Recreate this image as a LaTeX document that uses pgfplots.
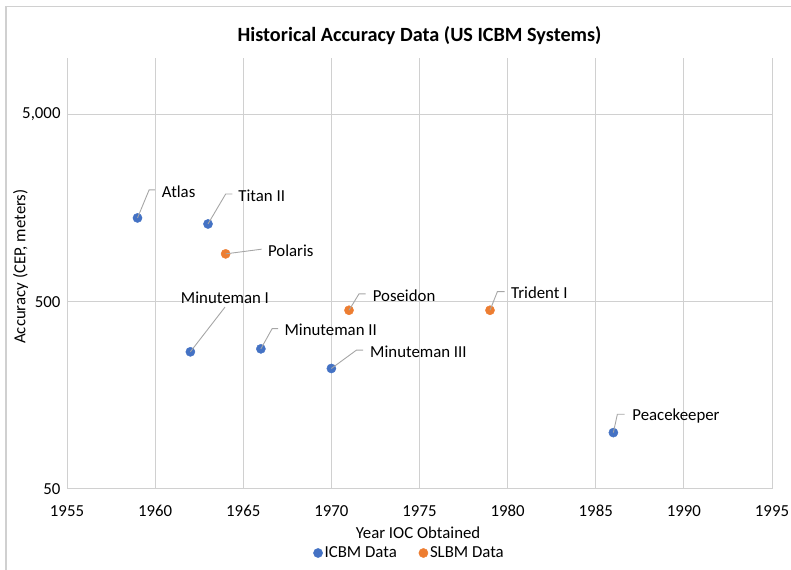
\documentclass[border=0pt]{standalone}
\usepackage{fontspec}
\setmainfont{Carlito}
\usepackage{pgfplots}
\pgfplotsset{compat=1.18}

\definecolor{icbm}{HTML}{4472C4}
\definecolor{slbm}{HTML}{ED7D31}
\definecolor{gridgray}{HTML}{D0D0D0}
\definecolor{leader}{HTML}{A6A6A6}
\newcommand{\lbl}{\fontsize{16.8bp}{20bp}\selectfont}

\begin{document}
\begin{tikzpicture}
\path[use as bounding box] (0,0) rectangle (791bp,570bp);
% chart frame (only left and top edges are visible)
\draw[gridgray, line width=1.2bp] (6bp,0) -- (6bp,563.3bp) -- (791bp,563.3bp);

\begin{axis}[
    at={(67bp,81bp)}, anchor=south west,
    scale only axis, width=705bp, height=431bp,
    xmin=1955, xmax=1995,
    ymode=log, ymin=50, ymax=10000,
    xtick={1955,1960,1965,1970,1975,1980,1985,1990,1995},
    xticklabels={1955,1960,1965,1970,1975,1980,1985,1990,1995},
    ytick={50,500,5000},
    yticklabels={50,500,{5,000}},
    /pgf/number format/assume math mode=true,
    major tick length=0pt, minor tick length=0pt, minor tick num=0,
    grid=major, grid style={gridgray, line width=1bp},
    axis x line=bottom, axis y line=left,
    axis line style={gridgray, line width=1bp, -},
    tick label style={font=\lbl, text=black},
    xticklabel style={anchor=center, yshift=-22bp},
    yticklabel style={anchor=east, inner sep=0pt, xshift=-6.3bp},
    xlabel={Year IOC Obtained},
    ylabel={Accuracy (CEP, meters)},
    label style={font=\lbl},
    xlabel style={at={(axis description cs:0.498,-0.102)}, anchor=center},
    ylabel style={at={(axis description cs:-0.0657,0.516)}, anchor=center},
    legend columns=2,
    legend style={at={(axis description cs:0.486,-0.1485)}, anchor=center,
        draw=none, fill=none, font=\lbl,
        /tikz/every even column/.append style={column sep=20bp}},
    legend cell align=left,
    clip=false,
]
\addplot[only marks, mark=*, mark size=4.6bp, mark options={fill=icbm, draw=icbm}]
    coordinates {(1959,1400)(1962,270)(1963,1300)(1966,280)(1970,220)(1986,100)};
\addlegendentry{ICBM Data}
\addplot[only marks, mark=*, mark size=4.6bp, mark options={fill=slbm, draw=slbm}]
    coordinates {(1964,900)(1971,450)(1979,450)};
\addlegendentry{SLBM Data}

% anchor points for the data labels
\coordinate (atlas) at (axis cs:1959,1400);
\coordinate (titan) at (axis cs:1963,1300);
\coordinate (polaris) at (axis cs:1964,900);
\coordinate (mm1) at (axis cs:1962,270);
\coordinate (mm2) at (axis cs:1966,280);
\coordinate (mm3) at (axis cs:1970,220);
\coordinate (poseidon) at (axis cs:1971,450);
\coordinate (trident) at (axis cs:1979,450);
\coordinate (peace) at (axis cs:1986,100);
\end{axis}

\begin{scope}[leader, line width=0.9bp,
    every node/.style={inner sep=0pt, font=\lbl, text=black}]
\draw (atlas) -- ++(11.6bp,28bp) -- ++(5.7bp,0)
    node[anchor=west, xshift=6.7bp, yshift=-1.5bp] {Atlas};
\draw (titan) -- ++(17.7bp,30bp) -- ++(6.7bp,0)
    node[anchor=west, xshift=5.6bp, yshift=-1.5bp] {Titan II};
\draw (polaris) -- ++(36bp,4.7bp)
    node[anchor=west, xshift=6bp, yshift=-1.5bp] {Polaris};
\draw (mm1) -- ++(34.6bp,44.7bp)
    node[anchor=south, yshift=3bp] {Minuteman I};
\draw (mm2) -- ++(11.3bp,20.3bp) -- ++(6bp,0)
    node[anchor=west, xshift=6bp, yshift=-1.5bp] {Minuteman II};
\draw (mm3) -- ++(25bp,18.3bp) -- ++(6.7bp,0)
    node[anchor=west, xshift=6.7bp, yshift=-1.5bp] {Minuteman III};
\draw (poseidon) -- ++(10bp,16.4bp) -- ++(6.7bp,0)
    node[anchor=west, xshift=6.7bp, yshift=-1.5bp] {Poseidon};
\draw (trident) -- ++(7.4bp,18.7bp) -- ++(7.3bp,0)
    node[anchor=west, xshift=6bp, yshift=-1.5bp] {Trident I};
\draw (peace) -- ++(4bp,18.4bp) -- ++(7.3bp,0)
    node[anchor=west, xshift=7.3bp, yshift=-2bp] {Peacekeeper};
\end{scope}

\node[font=\bfseries\fontsize{20.2bp}{24bp}\selectfont] at (419.5bp,534.3bp)
    {Historical Accuracy Data (US ICBM Systems)};
\end{tikzpicture}
\end{document}
